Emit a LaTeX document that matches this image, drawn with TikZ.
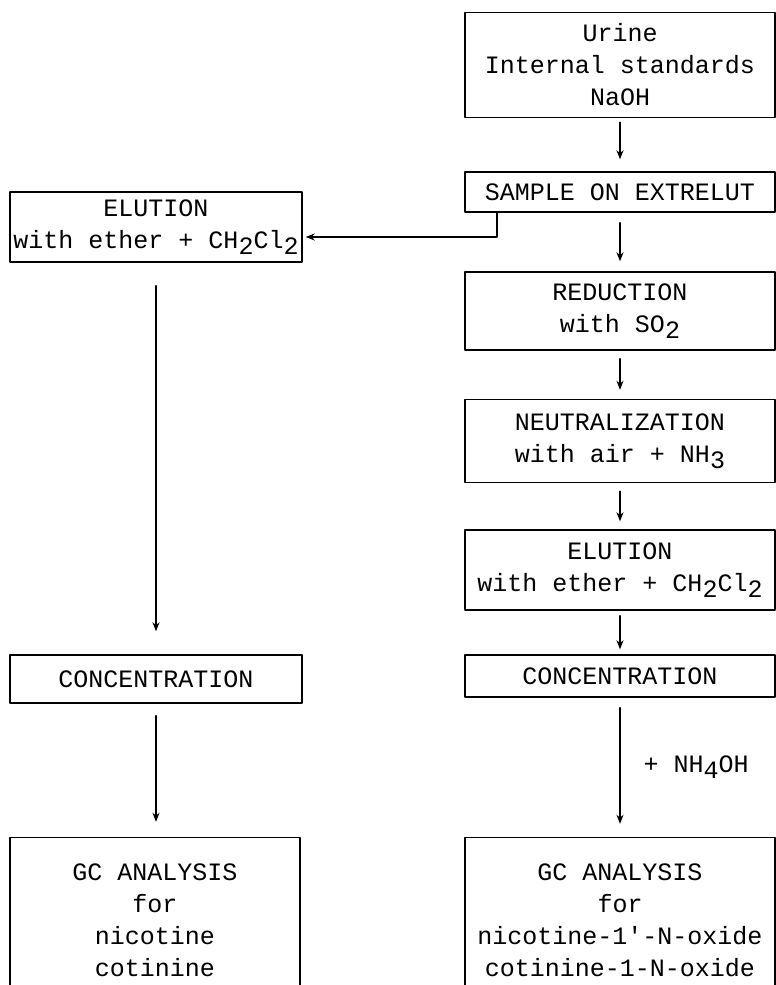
\documentclass[tikz,border=0pt]{standalone}
\usepackage{fontspec}
\setmonofont{Liberation Mono}
\usetikzlibrary{arrows.meta}
\newcommand{\chemsub}[1]{\raisebox{-0.45ex}{#1}}

\begin{document}
\begin{tikzpicture}[x=1pt, y=-1pt, line cap=round, line join=round,
    box/.style={draw, line width=1.4pt, align=center, inner sep=0pt,
      font=\ttfamily\fontsize{25}{32}\selectfont},
    flow/.style={line width=1.4pt, -{Stealth[length=9pt,width=7pt]}}]
  \useasboundingbox (0,0) rectangle (776,985);
  \clip (0,0) rectangle (776,985);
  % right column
  \node[box, minimum width=310pt, minimum height=105pt] (urine) at (620,65)
    {Urine\\Internal standards\\NaOH};
  \node[box, minimum width=310pt, minimum height=40pt] (sample) at (620,192)
    {SAMPLE ON EXTRELUT};
  \node[box, minimum width=310pt, minimum height=78pt] (reduct) at (620,311)
    {REDUCTION\\with SO\chemsub{2}};
  \node[box, minimum width=310pt, minimum height=83pt] (neutral) at (620,441)
    {NEUTRALIZATION\\with air + NH\chemsub{3}};
  \node[box, minimum width=310pt, minimum height=80pt] (elutR) at (620,570)
    {ELUTION\\with ether + CH\chemsub{2}Cl\chemsub{2}};
  \node[box, minimum width=310pt, minimum height=42pt] (concR) at (620,676)
    {CONCENTRATION};
  \node[box, minimum width=310pt, minimum height=165pt] (gcR) at (620,920)
    {GC ANALYSIS\\for\\nicotine-1'-N-oxide\\cotinine-1-N-oxide};
  % left column
  \node[box, minimum width=292pt, minimum height=70pt] (elutL) at (156,227)
    {ELUTION\\with ether + CH\chemsub{2}Cl\chemsub{2}};
  \node[box, minimum width=292pt, minimum height=48pt] (concL) at (156,679)
    {CONCENTRATION};
  \node[box, minimum width=290pt, minimum height=165pt] (gcL) at (155,920)
    {GC ANALYSIS\\for\\nicotine\\cotinine};
  % arrows
  \draw[flow, shorten <=4pt, shorten >=12pt] (urine) -- (sample);
  \draw[flow, shorten <=10pt, shorten >=10pt] (sample) -- (reduct);
  \draw[flow, shorten <=8pt, shorten >=9pt] (reduct) -- (neutral);
  \draw[flow, shorten <=8pt, shorten >=8pt] (neutral) -- (elutR);
  \draw[flow, shorten <=5pt, shorten >=5pt] (elutR) -- (concR);
  \draw[flow, shorten <=10pt, shorten >=13pt] (concR) -- (gcR);
  \node[font=\ttfamily\fontsize{25}{32}\selectfont, anchor=west] (ammonia)
    at (640,767) {+ NH\chemsub{4}OH};
  \coordinate (split) at (497,237);
  \draw[flow, shorten >=3pt] (sample.south -| split) -- (split)
    -- (split -| elutL.east);
  \draw[flow, shorten <=23pt, shorten >=23pt] (elutL) -- (concL);
  \draw[flow, shorten <=12pt, shorten >=15pt] (concL) -- (gcL.north -| concL);
\end{tikzpicture}
\end{document}
